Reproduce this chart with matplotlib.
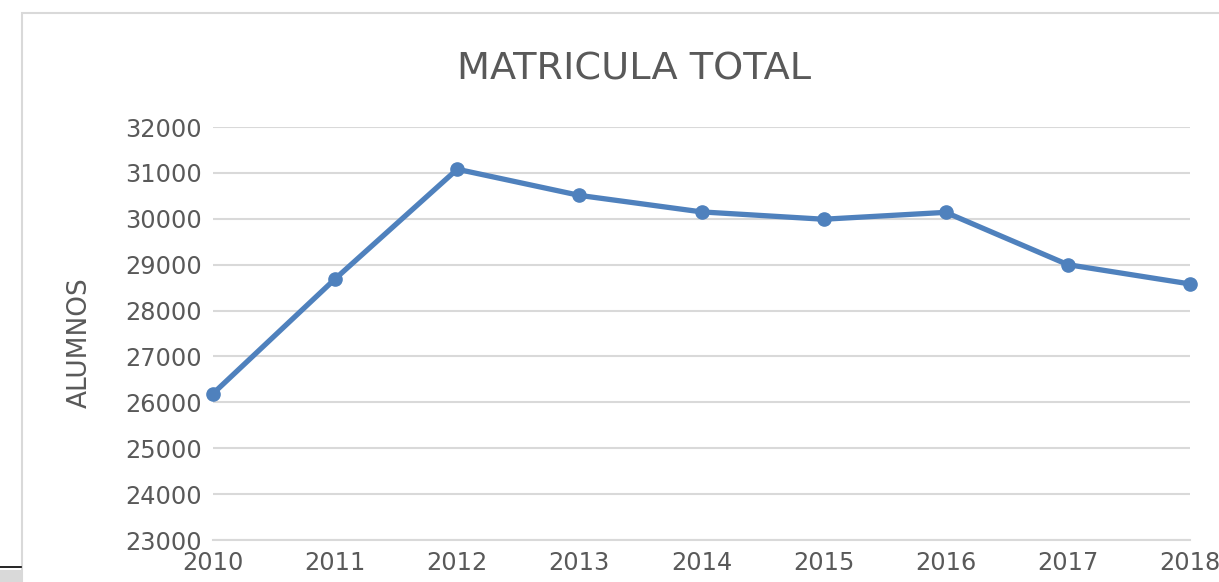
import numpy as np
import matplotlib.pyplot as plt
from matplotlib.patches import Rectangle
from matplotlib.lines import Line2D

anios = [2010, 2011, 2012, 2013, 2014, 2015, 2016, 2017, 2018]
alumnos = [26190, 28690, 31080, 30510, 30150, 29990, 30140, 29000, 28580]

gris = '#595959'
azul = '#4f81bd'

fig = plt.figure(figsize=(12.19, 5.82), dpi=100)

# marco del grafico (recortado a la derecha y abajo)
fig.patches.append(Rectangle((22 / 1219, -0.1), 1.2, 1 - 13 / 582 + 0.1,
                             transform=fig.transFigure, fill=False,
                             edgecolor='#d9d9d9', linewidth=1.5))
fig.patches.append(Rectangle((0, 0), 22 / 1219, 12 / 582,
                             transform=fig.transFigure, facecolor='#d9d9d9',
                             edgecolor='none'))
fig.lines.append(Line2D([0, 21 / 1219], [15 / 582, 15 / 582],
                        transform=fig.transFigure, color='black', linewidth=1.2))

ax = fig.add_axes([213 / 1219, 1 - 540 / 582, (1190 - 213) / 1219, (540 - 127) / 582])
ax.plot(anios, alumnos, color=azul, linewidth=3.8, marker='o', markersize=9.5,
        clip_on=False, zorder=3)

ax.set_xlim(2010, 2018)
ax.set_ylim(23000, 32000)
ax.set_yticks(np.arange(23000, 32001, 1000))
ax.set_xticks(anios)
ax.grid(axis='y', color='#d9d9d9', linewidth=1.5)
ax.set_axisbelow(True)
for s in ['top', 'right', 'left']:
    ax.spines[s].set_visible(False)
ax.spines['bottom'].set_color('#d9d9d9')
ax.spines['bottom'].set_linewidth(1.5)
ax.tick_params(axis='both', length=0, labelsize=17.3, labelcolor=gris)
ax.tick_params(axis='y', pad=8)
ax.tick_params(axis='x', pad=8)

fig.text(80 / 1219, 1 - 343 / 582, 'ALUMNOS', fontsize=19, color=gris,
         rotation=90, ha='center', va='center')
fig.text(634 / 1219, 1 - 69 / 582, 'MATRICULA TOTAL', fontsize=27.5, color=gris,
         ha='center', va='center')

plt.savefig('out.png', dpi=100)
